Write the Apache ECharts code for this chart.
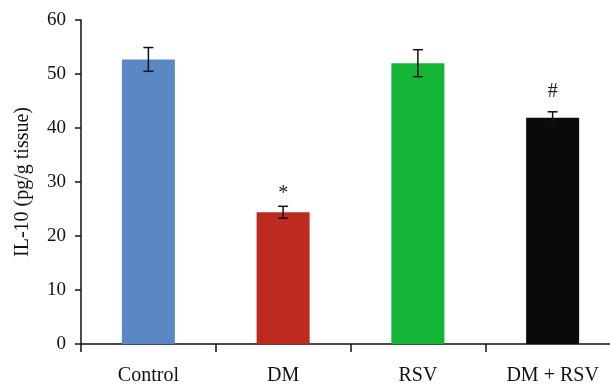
<!DOCTYPE html>
<html>
<head>
<meta charset="utf-8">
<script src="https://cdn.jsdelivr.net/npm/echarts@6/dist/echarts.min.js"></script>
<style>
  html, body { margin: 0; padding: 0; background: #fff; }
  #chart { width: 610px; height: 385px; }
</style>
</head>
<body>
<div id="chart"></div>
<script>
const categories = ['Control', 'DM', 'RSV', 'DM + RSV']
const means = [52.7, 24.4, 52.0, 41.9]
const errors = [2.2, 1.1, 2.5, 1.1]
const marks = ['', '*', '', '#']
const colors = ['#5b87c5', '#bc2a20', '#13b536', '#0a0a0a']

const serif = '"Liberation Serif", "DejaVu Serif", serif'

const chart = echarts.init(document.getElementById('chart'))

// '*' sits high in its box, '#' lower, so nudge them apart
const markNudge = { '*': 1, '#': -6 }

const option = {
  backgroundColor: '#fff',
  animation: false,
  // the last category runs past the right edge of the picture
  grid: { left: 81, width: 539, top: 20, bottom: 41, outerBoundsMode: 'none' },
  xAxis: {
    type: 'category',
    data: categories,
    axisLine: { lineStyle: { color: '#111', width: 1.5 } },
    axisTick: { show: true, length: 8, alignWithLabel: false, lineStyle: { color: '#111', width: 1.5 } },
    axisLabel: { color: '#111', fontFamily: serif, fontSize: 20, margin: 22 }
  },
  yAxis: {
    type: 'value',
    min: 0,
    max: 60,
    interval: 10,
    name: 'IL-10 (pg/g tissue)',
    nameLocation: 'middle',
    nameGap: 48,
    nameTextStyle: { color: '#111', fontFamily: serif, fontSize: 20 },
    axisLine: { show: true, lineStyle: { color: '#111', width: 1.5 } },
    axisTick: { show: true, length: 6, lineStyle: { color: '#111', width: 1.5 } },
    axisLabel: { color: '#111', fontFamily: serif, fontSize: 19, margin: 15 },
    splitLine: { show: false }
  },
  series: [
    {
      type: 'bar',
      barWidth: 53,
      data: means.map((v, i) => ({ value: v, itemStyle: { color: colors[i] } }))
    },
    {
      type: 'custom',
      data: means.map((v, i) => [i, v, errors[i]]),
      z: 10,
      renderItem: (params, api) => {
        const i = api.value(0)
        const m = api.value(1)
        const e = api.value(2)
        const top = api.coord([i, m + e])
        const bot = api.coord([i, m - e])
        const cap = 5
        const style = { stroke: '#111', lineWidth: 1.5 }
        const children = [
          { type: 'line', shape: { x1: top[0], y1: top[1], x2: bot[0], y2: bot[1] }, style },
          { type: 'line', shape: { x1: top[0] - cap, y1: top[1], x2: top[0] + cap, y2: top[1] }, style },
          { type: 'line', shape: { x1: bot[0] - cap, y1: bot[1], x2: bot[0] + cap, y2: bot[1] }, style }
        ]
        const mark = marks[params.dataIndex]
        if (mark) {
          children.push({
            type: 'text',
            style: {
              text: mark,
              x: top[0],
              y: top[1] - 4 + (markNudge[mark] || 0),
              align: 'center',
              verticalAlign: 'bottom',
              fill: '#222',
              font: '20px ' + serif
            }
          })
        }
        return { type: 'group', children }
      }
    }
  ]
}

chart.setOption(option)
</script>
</body>
</html>
